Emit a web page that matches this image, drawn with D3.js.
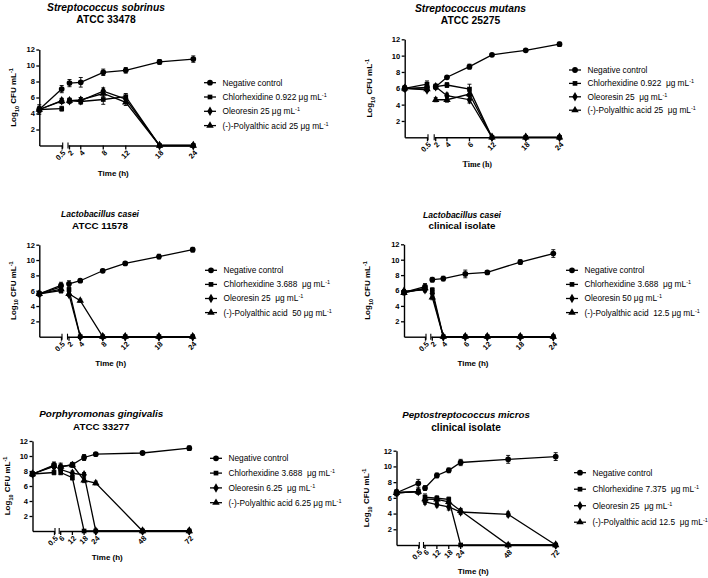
<!DOCTYPE html>
<html><head><meta charset="utf-8">
<script src="https://cdn.jsdelivr.net/npm/d3@7"></script>
<style>
body{margin:0;background:#fff}
text{font-family:"Liberation Sans",Arial,sans-serif;fill:#000}
</style>
</head><body>
<svg id="c" width="708" height="578"></svg>
<script>
// ---------------- DATA ----------------
const seriesLabels = ["Negative control","Chlorhexidine","Oleoresin","(-)-Polyalthic acid"];

// S. sobrinus ATCC 33478
const sobrinusTimes = [0,0.5,2,4,8,12,18,24];
const sobrinusNeg  = [4.5,7.05,7.8,7.9,9.15,9.4,10.45,10.8];
const sobrinusChx  = [4.5,4.6,5.6,5.5,5.75,6.1,0,0];
const sobrinusOleo = [4.5,5.6,5.6,5.6,6.8,5.8,0,0];
const sobrinusPoly = [4.5,5.55,5.6,5.7,6.5,5.4,0,0];
const sobrinusNegErr  = [0.6,0.45,0.45,0.6,0.4,0.35,0.3,0.4];
const sobrinusChxErr  = [0.4,0.3,0.3,0.3,0.6,0.4,0,0];
const sobrinusOleoErr = [0.3,0.3,0.3,0.4,0.4,0.3,0,0];
const sobrinusPolyErr = [0.3,0.3,0.2,0.3,0.4,0.4,0,0];
const sobrinusTicks = [2,4,8,12,18,24];
const sobrinusLegend = ["Chlorhexidine 0.922 \u03bcg mL","Oleoresin 25 \u03bcg mL","(-)-Polyalthic acid 25 \u03bcg mL"];

// S. mutans ATCC 25275
const mutansTimes = [0,0.5,2,4,6,12,18,24];
const mutansNeg  = [6.0,6.1,6.2,7.35,8.65,10.1,10.65,11.4];
const mutansChx  = [6.0,6.5,6.2,6.4,5.9,0,0,0];
const mutansOleo = [6.0,5.8,6.2,5.1,4.6,0,0,0];
const mutansPoly = [6.0,5.9,4.6,4.6,5.3,0,0,0];
const mutansNegErr  = [0.35,0.3,0.3,0.15,0.3,0.1,0.1,0.25];
const mutansChxErr  = [0.3,0.4,0.3,0.3,0.6,0,0,0];
const mutansOleoErr = [0.2,0.2,0.2,0.3,0.4,0,0,0];
const mutansPolyErr = [0.2,0.2,0.25,0.3,0.3,0,0,0];
const mutansTicks = [2,4,6,12,18,24];
const mutansLegend = ["Chlorhexidine 0.922  \u03bcg mL","Oleoresin 25  \u03bcg mL","(-)-Polyalthic acid 25  \u03bcg mL"];

// L. casei ATCC 11578
const caseiTimes = [0,0.5,2,4,8,12,18,24];
const caseiNeg  = [5.6,6.7,6.9,7.3,8.6,9.55,10.45,11.35];
const caseiChx  = [5.6,6.0,6.15,0,0,0,0,0];
const caseiOleo = [5.6,6.5,5.5,0,0,0,0,0];
const caseiPoly = [5.6,6.2,5.6,4.7,0,0,0,0];
const caseiNegErr  = [0.3,0.4,0.4,0.2,0.2,0.2,0.3,0.3];
const caseiChxErr  = [0.2,0.3,0.3,0,0,0,0,0];
const caseiOleoErr = [0.2,0.3,0.2,0,0,0,0,0];
const caseiPolyErr = [0.2,0.3,0.2,0.2,0,0,0,0];
const caseiTicks = [2,4,8,12,18,24];
const caseiLegend = ["Chlorhexidine 3.688  \u03bcg mL","Oleoresin 25  \u03bcg mL","(-)-Polyalthic acid  50 \u03bcg mL"];

// L. casei clinical isolate
const caseiClinTimes = [0,0.5,2,4,6,12,18,24];
const caseiClinNeg  = [5.75,6.5,7.4,7.55,8.15,8.35,9.7,10.8];
const caseiClinChx  = [5.75,6.2,6.05,0,0,0,0,0];
const caseiClinOleo = [5.9,6.1,5.6,0,0,0,0,0];
const caseiClinPoly = [5.7,6.3,5.1,0,0,0,0,0];
const caseiClinNegErr  = [0.3,0.4,0.3,0.3,0.5,0.2,0.3,0.5];
const caseiClinChxErr  = [0.2,0.3,0.3,0,0,0,0,0];
const caseiClinOleoErr = [0.2,0.3,0.4,0,0,0,0,0];
const caseiClinPolyErr = [0.2,0.3,0.3,0,0,0,0,0];
const caseiClinTicks = [2,4,6,12,18,24];
const caseiClinLegend = ["Chlorhexidine 3.688  \u03bcg mL","Oleoresin 50 \u03bcg mL","(-)-Polyalthic acid  12.5 \u03bcg mL"];

// P. gingivalis ATCC 33277
const gingTimes = [0,0.5,6,12,18,24,48,72];
const gingNeg  = [7.6,8.8,8.55,8.85,9.8,10.25,10.4,11.05];
const gingChx  = [7.6,7.8,7.8,7.1,0,0,0,0];
const gingOleo = [7.6,8.6,8.2,7.7,7.5,0,0,0];
const gingPoly = [7.6,8.7,8.6,8.8,6.75,6.4,0,0];
const gingNegErr  = [0.3,0.4,0.5,0.3,0.4,0.2,0.2,0.3];
const gingChxErr  = [0.3,0.3,0.3,0.3,0,0,0,0];
const gingOleoErr = [0.2,0.3,0.3,0.3,0.3,0,0,0];
const gingPolyErr = [0.2,0.3,0.3,0.3,0.3,0.25,0,0];
const gingTicks = [6,12,18,24,48,72];
const gingLegend = ["Chlorhexidine 3.688  \u03bcg mL","Oleoresin 6.25  \u03bcg mL","(-)-Polyalthic acid 6.25 \u03bcg mL"];

// P. micros clinical isolate
const microsTimes = [0,0.5,6,12,18,24,48,72];
const microsNeg  = [6.65,7.85,7.25,8.85,9.5,10.5,10.9,11.25];
const microsChx  = [6.65,6.8,6.1,5.95,5.8,0,0,0];
const microsOleo = [6.65,6.8,5.5,5.15,4.85,4.2,3.9,0];
const microsPoly = [6.65,6.8,5.85,5.8,5.5,4.35,0,0];
const microsNegErr  = [0.4,0.5,0.3,0.3,0.3,0.4,0.5,0.5];
const microsChxErr  = [0.3,0.3,0.4,0.3,0.3,0,0,0];
const microsOleoErr = [0.3,0.3,0.3,0.3,0.4,0.3,0.3,0];
const microsPolyErr = [0.3,0.3,0.3,0.3,0.3,0.3,0,0];
const microsTicks = [6,12,18,24,48,72];
const microsLegend = ["Chlorhexidine 7.375  \u03bcg mL","Oleoresin 25  \u03bcg mL","(-)-Polyalthic acid 12.5  \u03bcg mL"];

const yTicks = [2,4,6,8,10,12];

// ---------------- LAYOUT ----------------
const topSlots = [2,4,8,12,18,24];
const panels = [
 {title:["Streptococcus sobrinus","ATCC 33478"], tfs:[10.3,10.3], tx:106, ty:[10.8,23.3],
  times:sobrinusTimes, ser:[sobrinusNeg,sobrinusChx,sobrinusOleo,sobrinusPoly],
  err:[sobrinusNegErr,sobrinusChxErr,sobrinusOleoErr,sobrinusPolyErr],
  ticks:sobrinusTicks, slots:topSlots, leg:sobrinusLegend,
  ox:39.3, xa:61.7, xb0:69.5, xb1:193.3, y0:145.5, y12:49.5,
  lx:210, ly:82.7, ldy:14.3, ylx:-26, xlx:113.3, xly:175.5, serif:false},
 {title:["Streptococcus mutans","ATCC 25275"], tfs:[10.3,10.3], tx:470.5, ty:[11.7,24],
  times:mutansTimes, ser:[mutansNeg,mutansChx,mutansOleo,mutansPoly],
  err:[mutansNegErr,mutansChxErr,mutansOleoErr,mutansPolyErr],
  ticks:mutansTicks, slots:topSlots, leg:mutansLegend,
  ox:404.7, xa:427, xb0:435.7, xb1:559.5, y0:137.3, y12:39.3,
  lx:575, ly:70, ldy:13.4, ylx:-35.5, xlx:477.3, xly:167, serif:true},
 {title:["Lactobacillus casei","ATCC 11578"], tfs:[8.5,9.8], tx:100, ty:[216.7,229.3],
  times:caseiTimes, ser:[caseiNeg,caseiChx,caseiOleo,caseiPoly],
  err:[caseiNegErr,caseiChxErr,caseiOleoErr,caseiPolyErr],
  ticks:caseiTicks, slots:topSlots, leg:caseiLegend,
  ox:39.3, xa:61, xb0:69, xb1:192.7, y0:336.7, y12:244.7,
  lx:211, ly:270.3, ldy:14.1, ylx:-26.6, xlx:110.7, xly:365.5, serif:false},
 {title:["Lactobacillus casei","clinical isolate"], tfs:[8.5,9.8], tx:462, ty:[218.3,229.3],
  times:caseiClinTimes, ser:[caseiClinNeg,caseiClinChx,caseiClinOleo,caseiClinPoly],
  err:[caseiClinNegErr,caseiClinChxErr,caseiClinOleoErr,caseiClinPolyErr],
  ticks:caseiClinTicks, slots:topSlots, leg:caseiClinLegend,
  ox:404, xa:425, xb0:432.3, xb1:553.3, y0:336.7, y12:244.3,
  lx:572, ly:270.3, ldy:14.1, ylx:-36.7, xlx:473, xly:366, serif:false},
 {title:["Porphyromonas gingivalis","ATCC 33277"], tfs:[9.9,9.8], tx:101.3, ty:[417.3,430],
  times:gingTimes, ser:[gingNeg,gingChx,gingOleo,gingPoly],
  err:[gingNegErr,gingChxErr,gingOleoErr,gingPolyErr],
  ticks:gingTicks, slots:gingTicks, leg:gingLegend,
  ox:32.5, xa:54, xb0:60.7, xb1:189.3, y0:531, y12:441,
  lx:216, ly:458.3, ldy:14.8, ylx:-25, xlx:107.3, xly:559.5, serif:false},
 {title:["Peptostreptococcus micros","clinical isolate"], tfs:[9.7,10.2], tx:466, ty:[418.3,430.7],
  times:microsTimes, ser:[microsNeg,microsChx,microsOleo,microsPoly],
  err:[microsNegErr,microsChxErr,microsOleoErr,microsPolyErr],
  ticks:microsTicks, slots:microsTicks, leg:microsLegend,
  ox:396.5, xa:418.3, xb0:425, xb1:555.7, y0:545, y12:450.7,
  lx:580, ly:472.7, ldy:16.5, ylx:-30, xlx:473.3, xly:574, serif:false}
];

const symbols = [d3.symbolCircle, d3.symbolSquare, d3.symbolDiamond, d3.symbolTriangle];
const symSizes = [26, 22, 26, 24];
const svg = d3.select("#c");
const font = '"Liberation Sans",Arial,sans-serif';

panels.forEach(p => {
  const g = svg.append("g");
  const y = d3.scaleLinear().domain([0,12]).range([p.y0, p.y12]);
  const xA = d3.scaleLinear().domain([0,0.5]).range([p.ox, p.xa]);
  const lin = d3.scaleLinear().domain([p.slots[0], p.slots[p.slots.length-1]]).range([p.xb0, p.xb1]);
  const xB = d3.scaleLinear().domain(p.ticks).range(p.slots.map(lin));
  const split = p.ticks[0];
  const X = t => t < split ? xA(t) : xB(t);

  // y axis
  const ya = g.append("g").attr("transform",`translate(${p.ox},0)`)
    .call(d3.axisLeft(y).tickValues(yTicks).tickSize(3).tickSizeOuter(0).tickPadding(1.5));
  // x axis segments
  const xaA = g.append("g").attr("transform",`translate(0,${p.y0})`)
    .call(d3.axisBottom(xA).tickValues([0.5]).tickSize(4).tickSizeOuter(0).tickFormat(""));
  const xaB = g.append("g").attr("transform",`translate(0,${p.y0})`)
    .call(d3.axisBottom(d3.scaleLinear().domain([p.ticks[0], p.ticks[p.ticks.length-1]]).range([p.xb0-1.5, p.xb1]))
      .tickValues([]).tickSizeOuter(0));
  xaB.append("g").selectAll("line").data(p.ticks).join("line")
    .attr("x1", d=>xB(d)).attr("x2", d=>xB(d)).attr("y1",0).attr("y2",4).attr("stroke","#000").attr("stroke-width",1.3);
  // break marks
  g.append("line").attr("x1",p.xa+1).attr("x2",p.xa+1).attr("y1",p.y0-3).attr("y2",p.y0+3).attr("stroke","#000").attr("stroke-width",1.1);
  g.append("line").attr("x1",p.xb0-1.5).attr("x2",p.xb0-1.5).attr("y1",p.y0-3).attr("y2",p.y0+3).attr("stroke","#000").attr("stroke-width",1.1);
  [ya,xaA,xaB].forEach(a=>{
    a.selectAll("path.domain").attr("stroke","#000").attr("stroke-width",1.4);
    a.selectAll(".tick line").attr("stroke","#000").attr("stroke-width",1.3);
  });
  ya.selectAll(".tick text").attr("font-family",font).attr("font-size",7.5).attr("font-weight","bold").attr("fill","#000");

  // x tick labels (rotated)
  const xl = [{v:0.5,x:xA(0.5)}].concat(p.ticks.map(t=>({v:t,x:xB(t)})));
  g.selectAll("text.xt").data(xl).join("text").attr("class","xt")
    .attr("transform", d=>`translate(${d.x+2.5},${p.y0+6}) rotate(-45)`)
    .attr("text-anchor","end").attr("dy","0.35em")
    .attr("font-size",7.5).attr("font-weight","bold").text(d=>d.v);

  // series
  p.ser.forEach((vals,si) => {
    const pts = p.times.map((t,i)=>({t, v:vals[i], e:p.err[si][i]}));
    const segA = pts.filter(d=>d.t < split), segB = pts.filter(d=>d.t >= split);
    const line = d3.line().x(d=>X(d.t)).y(d=>y(d.v));
    [segA,segB].forEach(s => g.append("path").datum(s).attr("d",line)
      .attr("fill","none").attr("stroke","#000").attr("stroke-width",1.3));
    // error bars
    const eb = g.append("g").attr("stroke","#000").attr("stroke-width",0.9);
    pts.filter(d=>d.e>0).forEach(d=>{
      const cx = X(d.t);
      eb.append("line").attr("x1",cx).attr("x2",cx).attr("y1",y(d.v-d.e)).attr("y2",y(d.v+d.e));
      eb.append("line").attr("x1",cx-2).attr("x2",cx+2).attr("y1",y(d.v+d.e)).attr("y2",y(d.v+d.e));
      eb.append("line").attr("x1",cx-2).attr("x2",cx+2).attr("y1",y(d.v-d.e)).attr("y2",y(d.v-d.e));
    });
    g.selectAll(null).data(pts).join("path")
      .attr("transform", d=>`translate(${X(d.t)},${y(d.v)})`)
      .attr("d", d3.symbol().type(symbols[si]).size(symSizes[si])).attr("fill","#000");
  });

  // title
  g.append("text").attr("x",p.tx).attr("y",p.ty[0]).attr("text-anchor","middle")
    .attr("font-weight","bold").attr("font-style","italic").attr("font-size",p.tfs[0]).text(p.title[0]);
  g.append("text").attr("x",p.tx).attr("y",p.ty[1]).attr("text-anchor","middle")
    .attr("font-weight","bold").attr("font-size",p.tfs[1]).text(p.title[1]);

  // y label
  const yl = g.append("text").attr("transform",`translate(${p.ox+p.ylx},${(p.y0+p.y12)/2}) rotate(-90)`)
    .attr("text-anchor","middle").attr("dy","0.35em").attr("font-size",8).attr("font-weight","bold");
  yl.append("tspan").text("Log");
  yl.append("tspan").attr("font-size",5.5).attr("baseline-shift","sub").text("10");
  yl.append("tspan").text(" CFU mL");
  yl.append("tspan").attr("font-size",5.5).attr("baseline-shift","super").text("-1");

  // x label
  g.append("text").attr("x",p.xlx).attr("y",p.xly).attr("text-anchor","middle")
    .attr("font-size",8).attr("font-weight","bold")
    .style("font-family", p.serif ? '"Liberation Serif","Times New Roman",serif' : font)
    .text("Time (h)");

  // legend
  const labels = [seriesLabels[0]].concat(p.leg);
  labels.forEach((lab,i)=>{
    const ly = p.ly + i*p.ldy;
    g.append("line").attr("x1",p.lx-6).attr("x2",p.lx+6).attr("y1",ly).attr("y2",ly)
      .attr("stroke","#000").attr("stroke-width",1.3);
    g.append("path").attr("transform",`translate(${p.lx},${ly})`)
      .attr("d", d3.symbol().type(symbols[i]).size(symSizes[i])).attr("fill","#000");
    const t = g.append("text").attr("x",p.lx+12.5).attr("y",ly).attr("dy","0.35em")
      .attr("font-size",8.3).style("white-space","pre");
    t.append("tspan").text(lab);
    if (i>0) t.append("tspan").attr("font-size",5.5).attr("baseline-shift","super").text("-1");
  });
});
</script>
</body></html>
